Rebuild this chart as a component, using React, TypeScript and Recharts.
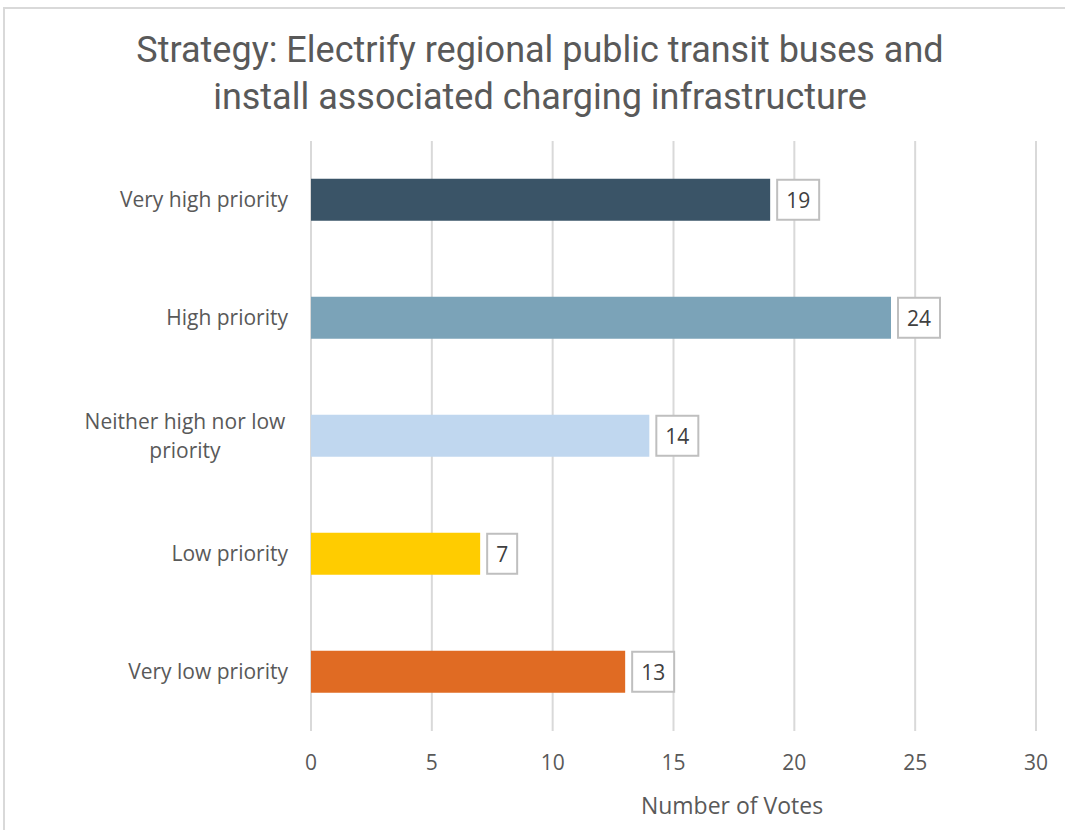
import { BarChart, Bar, XAxis, YAxis, CartesianGrid, Cell, LabelList } from 'recharts';

const categories = ['Very high priority', 'High priority', 'Neither high nor low priority', 'Low priority', 'Very low priority'];
const votes = [19, 24, 14, 7, 13];
const barColors = ['#3a5467', '#7ba3b8', '#c0d7ef', '#ffcc00', '#e06b23'];
const xTicks = [0, 5, 10, 15, 20, 25, 30];

const data = categories.map((name, i) => ({ name, votes: votes[i] }));

const TEXT = '#595959';
const FONT = '"Open Sans", "Liberation Sans", sans-serif';

// wrap long category names onto two lines like Excel does
const wrapLabel = (s: string): string[] =>
  s === 'Neither high nor low priority' ? ['Neither high nor low', 'priority'] : [s];

const CategoryTick = ({ x, y, payload }: any) => {
  const lines = wrapLabel(payload.value);
  const right = x - 15;
  if (lines.length === 1) {
    return (
      <text x={right} y={y + 7} textAnchor="end" fill={TEXT} fontSize={21} fontFamily={FONT}>{lines[0]}</text>
    );
  }
  // multi-line labels are centred on the widest line
  const cx = right - 103;
  const start = y - ((lines.length - 1) * 29) / 2;
  return (
    <text textAnchor="middle" fill={TEXT} fontSize={21} fontFamily={FONT}>
      {lines.map((l, i) => (
        <tspan key={i} x={cx} y={start + i * 29 + 7}>{l}</tspan>
      ))}
    </text>
  );
};

const ValueBox = ({ x, y, width, height, value }: any) => {
  const bx = x + width + 7;
  const w = String(value).length > 1 ? 42 : 30;
  const cy = y + height / 2;
  return (
    <g>
      <rect x={bx} y={cy - 20} width={w} height={40} fill="#fff" stroke="#bfbfbf" strokeWidth={2} />
      <text x={bx + w / 2} y={cy + 8} textAnchor="middle" fill="#404040" fontSize={21} fontFamily={FONT}>{value}</text>
    </g>
  );
};

export default function App() {
  return (
    <div style={{ position: 'absolute', left: 0, top: 0, width: 1065, height: 830, background: '#fff' }}>
      <div style={{ position: 'absolute', left: 3, top: 7, width: 1070, height: 830, border: '2px solid #d9d9d9', boxSizing: 'border-box' }} />
      <BarChart
        width={1065}
        height={830}
        data={data}
        layout="vertical"
        margin={{ top: 141, right: 29, left: 0, bottom: 69 }}
        barCategoryGap="32%"
      >
        <text x={540} y={62} textAnchor="middle" fill={TEXT} fontSize={36} fontFamily='"Roboto", sans-serif'>
          Strategy: Electrify regional public transit buses and
        </text>
        <text x={540} y={109} textAnchor="middle" fill={TEXT} fontSize={36} fontFamily='"Roboto", sans-serif'>
          install associated charging infrastructure
        </text>
        <CartesianGrid horizontal={false} stroke="#d9d9d9" strokeWidth={2} />
        <XAxis
          type="number"
          domain={[0, 30]}
          ticks={xTicks}
          height={30}
          axisLine={false}
          tickLine={false}
          tick={{ fontSize: 21, fill: TEXT, fontFamily: FONT }}
          tickMargin={18}
        />
        <YAxis
          type="category"
          dataKey="name"
          width={311}
          axisLine={false}
          tickLine={false}
          tick={<CategoryTick />}
        />
        <Bar dataKey="votes" isAnimationActive={false}>
          {data.map((d, i) => (
            <Cell key={d.name} fill={barColors[i]} />
          ))}
          <LabelList dataKey="votes" content={<ValueBox />} />
        </Bar>
        <text x={732} y={814} textAnchor="middle" fill={TEXT} fontSize={23} fontFamily={FONT}>Number of Votes</text>
      </BarChart>
    </div>
  );
}
